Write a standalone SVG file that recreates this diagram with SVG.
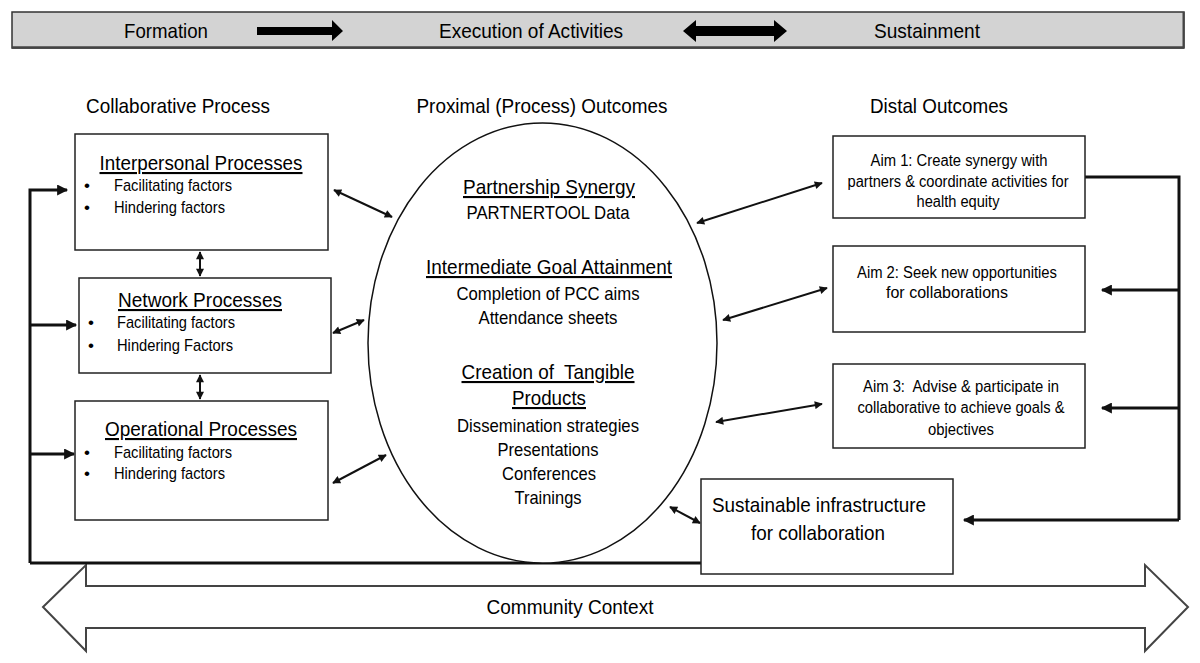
<svg xmlns="http://www.w3.org/2000/svg" width="1200" height="663" viewBox="0 0 1200 663">
<defs>
<style>
text{font-family:"Liberation Sans",Arial,sans-serif;fill:#000}
.hd{font-size:21px;text-anchor:middle}
.ttl{font-size:21px;text-anchor:middle;text-decoration:underline}
.bl{font-size:17px}
.sub{font-size:19px;text-anchor:middle}
.aim{font-size:16px;text-anchor:middle}
.box{fill:#fff;stroke:#222;stroke-width:1.5}
.thin{fill:none;stroke:#111;stroke-width:2;marker-start:url(#hs);marker-end:url(#he)}
.thick{fill:none;stroke:#111;stroke-width:3}
.tha{fill:none;stroke:#111;stroke-width:3;marker-end:url(#big)}
</style>
<marker id="he" viewBox="0 0 10 10" refX="9" refY="5" markerUnits="userSpaceOnUse" markerWidth="11" markerHeight="8" orient="auto"><path d="M0,0 L10,5 L0,10 z" fill="#111"/></marker>
<marker id="hs" viewBox="0 0 10 10" refX="1" refY="5" markerUnits="userSpaceOnUse" markerWidth="11" markerHeight="8" orient="auto"><path d="M10,0 L0,5 L10,10 z" fill="#111"/></marker>
<marker id="big" viewBox="0 0 10 10" refX="9" refY="5" markerUnits="userSpaceOnUse" markerWidth="12" markerHeight="11" orient="auto"><path d="M0,0 L10,5 L0,10 z" fill="#111"/></marker>
</defs>
<rect width="1200" height="663" fill="#fff"/>

<g id="phase-bar">
<rect x="12" y="12" width="1172" height="36" fill="#d3d3d3" stroke="#333" stroke-width="1.5"/>
<line x1="12" y1="47.5" x2="1184" y2="47.5" stroke="#444" stroke-width="2.5"/>
<line x1="1183.5" y1="12" x2="1183.5" y2="48" stroke="#444" stroke-width="2"/>
<text class="hd" x="166" y="38" textLength="84" lengthAdjust="spacingAndGlyphs">Formation</text>
<polygon points="257,27 332,27 332,20 343,31 332,41 332,35 257,35" fill="#000"/>
<text class="hd" x="531" y="38" textLength="184" lengthAdjust="spacingAndGlyphs">Execution of Activities</text>
<polygon points="683,31 696,20 696,26 774,26 774,20 787,31 774,42 774,36 696,36 696,42" fill="#000"/>
<text class="hd" x="927" y="38" textLength="106" lengthAdjust="spacingAndGlyphs">Sustainment</text>
</g>

<g id="headers">
<text class="hd" x="178" y="113" textLength="184" lengthAdjust="spacingAndGlyphs">Collaborative Process</text>
<text class="hd" x="542" y="113" textLength="251" lengthAdjust="spacingAndGlyphs">Proximal (Process) Outcomes</text>
<text class="hd" x="939" y="113" textLength="138" lengthAdjust="spacingAndGlyphs">Distal Outcomes</text>
</g>

<g id="community-context">
<polygon points="43,607 86,565 86,586 1145,586 1145,565 1188,607 1145,651 1145,628 86,628 86,651" fill="#fff" stroke="#444" stroke-width="2"/>
<text class="hd" x="570" y="614" textLength="167" lengthAdjust="spacingAndGlyphs">Community Context</text>
</g>

<g id="connectors">
<path class="thick" d="M30,563 H702"/>
<path class="tha" d="M30,563 V190 H67"/>
<path class="tha" d="M30,325 H76"/>
<path class="tha" d="M30,454 H74"/>
<path class="thick" d="M1085,177 H1179 V520"/>
<path class="tha" d="M1179,520 H964"/>
<path class="tha" d="M1179,290 H1102"/>
<path class="tha" d="M1179,408 H1102"/>
<path class="thin" d="M200,252 V276"/>
<path class="thin" d="M200,375 V399"/>
<path class="thin" d="M334,190 L392,217"/>
<path class="thin" d="M333,333 L364,320"/>
<path class="thin" d="M333,483 L386,455"/>
<path class="thin" d="M697,223 L822,183"/>
<path class="thin" d="M723,320 L827,288"/>
<path class="thin" d="M716,422 L822,404"/>
<path class="thin" d="M670,507 L700,523"/>
</g>

<g id="interpersonal">
<rect class="box" x="75" y="134" width="253" height="116"/>
<text class="ttl" x="201" y="170" textLength="203" lengthAdjust="spacingAndGlyphs">Interpersonal Processes</text>
<text class="bl" x="84" y="191">•</text><text class="bl" x="114" y="191" textLength="118" lengthAdjust="spacingAndGlyphs">Facilitating factors</text>
<text class="bl" x="84" y="213">•</text><text class="bl" x="114" y="213" textLength="111" lengthAdjust="spacingAndGlyphs">Hindering factors</text>
</g>

<g id="network">
<rect class="box" x="79" y="278" width="252" height="95"/>
<text class="ttl" x="200" y="307" textLength="164" lengthAdjust="spacingAndGlyphs">Network Processes</text>
<text class="bl" x="88" y="328">•</text><text class="bl" x="117" y="328" textLength="118" lengthAdjust="spacingAndGlyphs">Facilitating factors</text>
<text class="bl" x="88" y="351">•</text><text class="bl" x="117" y="351" textLength="116" lengthAdjust="spacingAndGlyphs">Hindering Factors</text>
</g>

<g id="operational">
<rect class="box" x="75" y="401" width="253" height="119"/>
<text class="ttl" x="201" y="436" textLength="192" lengthAdjust="spacingAndGlyphs">Operational Processes</text>
<text class="bl" x="84" y="458">•</text><text class="bl" x="114" y="458" textLength="118" lengthAdjust="spacingAndGlyphs">Facilitating factors</text>
<text class="bl" x="84" y="479">•</text><text class="bl" x="114" y="479" textLength="111" lengthAdjust="spacingAndGlyphs">Hindering factors</text>
</g>

<g id="proximal-outcomes">
<ellipse cx="542.5" cy="343" rx="174.5" ry="220" fill="#fff" stroke="#111" stroke-width="1.5"/>
<text class="ttl" x="549" y="194" textLength="172" lengthAdjust="spacingAndGlyphs">Partnership Synergy</text>
<text class="sub" x="548" y="219" textLength="163" lengthAdjust="spacingAndGlyphs">PARTNERTOOL Data</text>
<text class="ttl" x="549" y="274" textLength="246" lengthAdjust="spacingAndGlyphs">Intermediate Goal Attainment</text>
<text class="sub" x="548" y="300" textLength="183" lengthAdjust="spacingAndGlyphs">Completion of PCC aims</text>
<text class="sub" x="548" y="324" textLength="139" lengthAdjust="spacingAndGlyphs">Attendance sheets</text>
<text class="ttl" x="548" y="379" textLength="173" lengthAdjust="spacingAndGlyphs" xml:space="preserve">Creation of  Tangible</text>
<text class="ttl" x="549" y="405" textLength="74" lengthAdjust="spacingAndGlyphs">Products</text>
<text class="sub" x="548" y="432" textLength="182" lengthAdjust="spacingAndGlyphs">Dissemination strategies</text>
<text class="sub" x="548" y="456" textLength="101" lengthAdjust="spacingAndGlyphs">Presentations</text>
<text class="sub" x="549" y="480" textLength="94" lengthAdjust="spacingAndGlyphs">Conferences</text>
<text class="sub" x="548" y="504" textLength="67" lengthAdjust="spacingAndGlyphs">Trainings</text>
</g>

<g id="aim1">
<rect class="box" x="833" y="136" width="252" height="82"/>
<text class="aim" x="959" y="166" textLength="177" lengthAdjust="spacingAndGlyphs">Aim 1: Create synergy with</text>
<text class="aim" x="958" y="187" textLength="221" lengthAdjust="spacingAndGlyphs">partners &amp; coordinate activities for</text>
<text class="aim" x="958" y="207" textLength="83" lengthAdjust="spacingAndGlyphs">health equity</text>
</g>

<g id="aim2">
<rect class="box" x="833" y="246" width="252" height="86"/>
<text class="aim" x="957" y="278" textLength="200" lengthAdjust="spacingAndGlyphs">Aim 2: Seek new opportunities</text>
<text class="aim" x="947" y="298" textLength="122" lengthAdjust="spacingAndGlyphs">for collaborations</text>
</g>

<g id="aim3">
<rect class="box" x="833" y="364" width="252" height="84"/>
<text class="aim" x="961" y="392" textLength="196" lengthAdjust="spacingAndGlyphs" xml:space="preserve">Aim 3:  Advise &amp; participate in</text>
<text class="aim" x="961" y="413" textLength="207" lengthAdjust="spacingAndGlyphs">collaborative to achieve goals &amp;</text>
<text class="aim" x="961" y="435" textLength="66" lengthAdjust="spacingAndGlyphs">objectives</text>
</g>

<g id="sustainable-infrastructure">
<rect class="box" x="701" y="479" width="252" height="95"/>
<text class="hd" x="819" y="512" textLength="214" lengthAdjust="spacingAndGlyphs">Sustainable infrastructure</text>
<text class="hd" x="818" y="540" textLength="134" lengthAdjust="spacingAndGlyphs">for collaboration</text>
</g>
</svg>
